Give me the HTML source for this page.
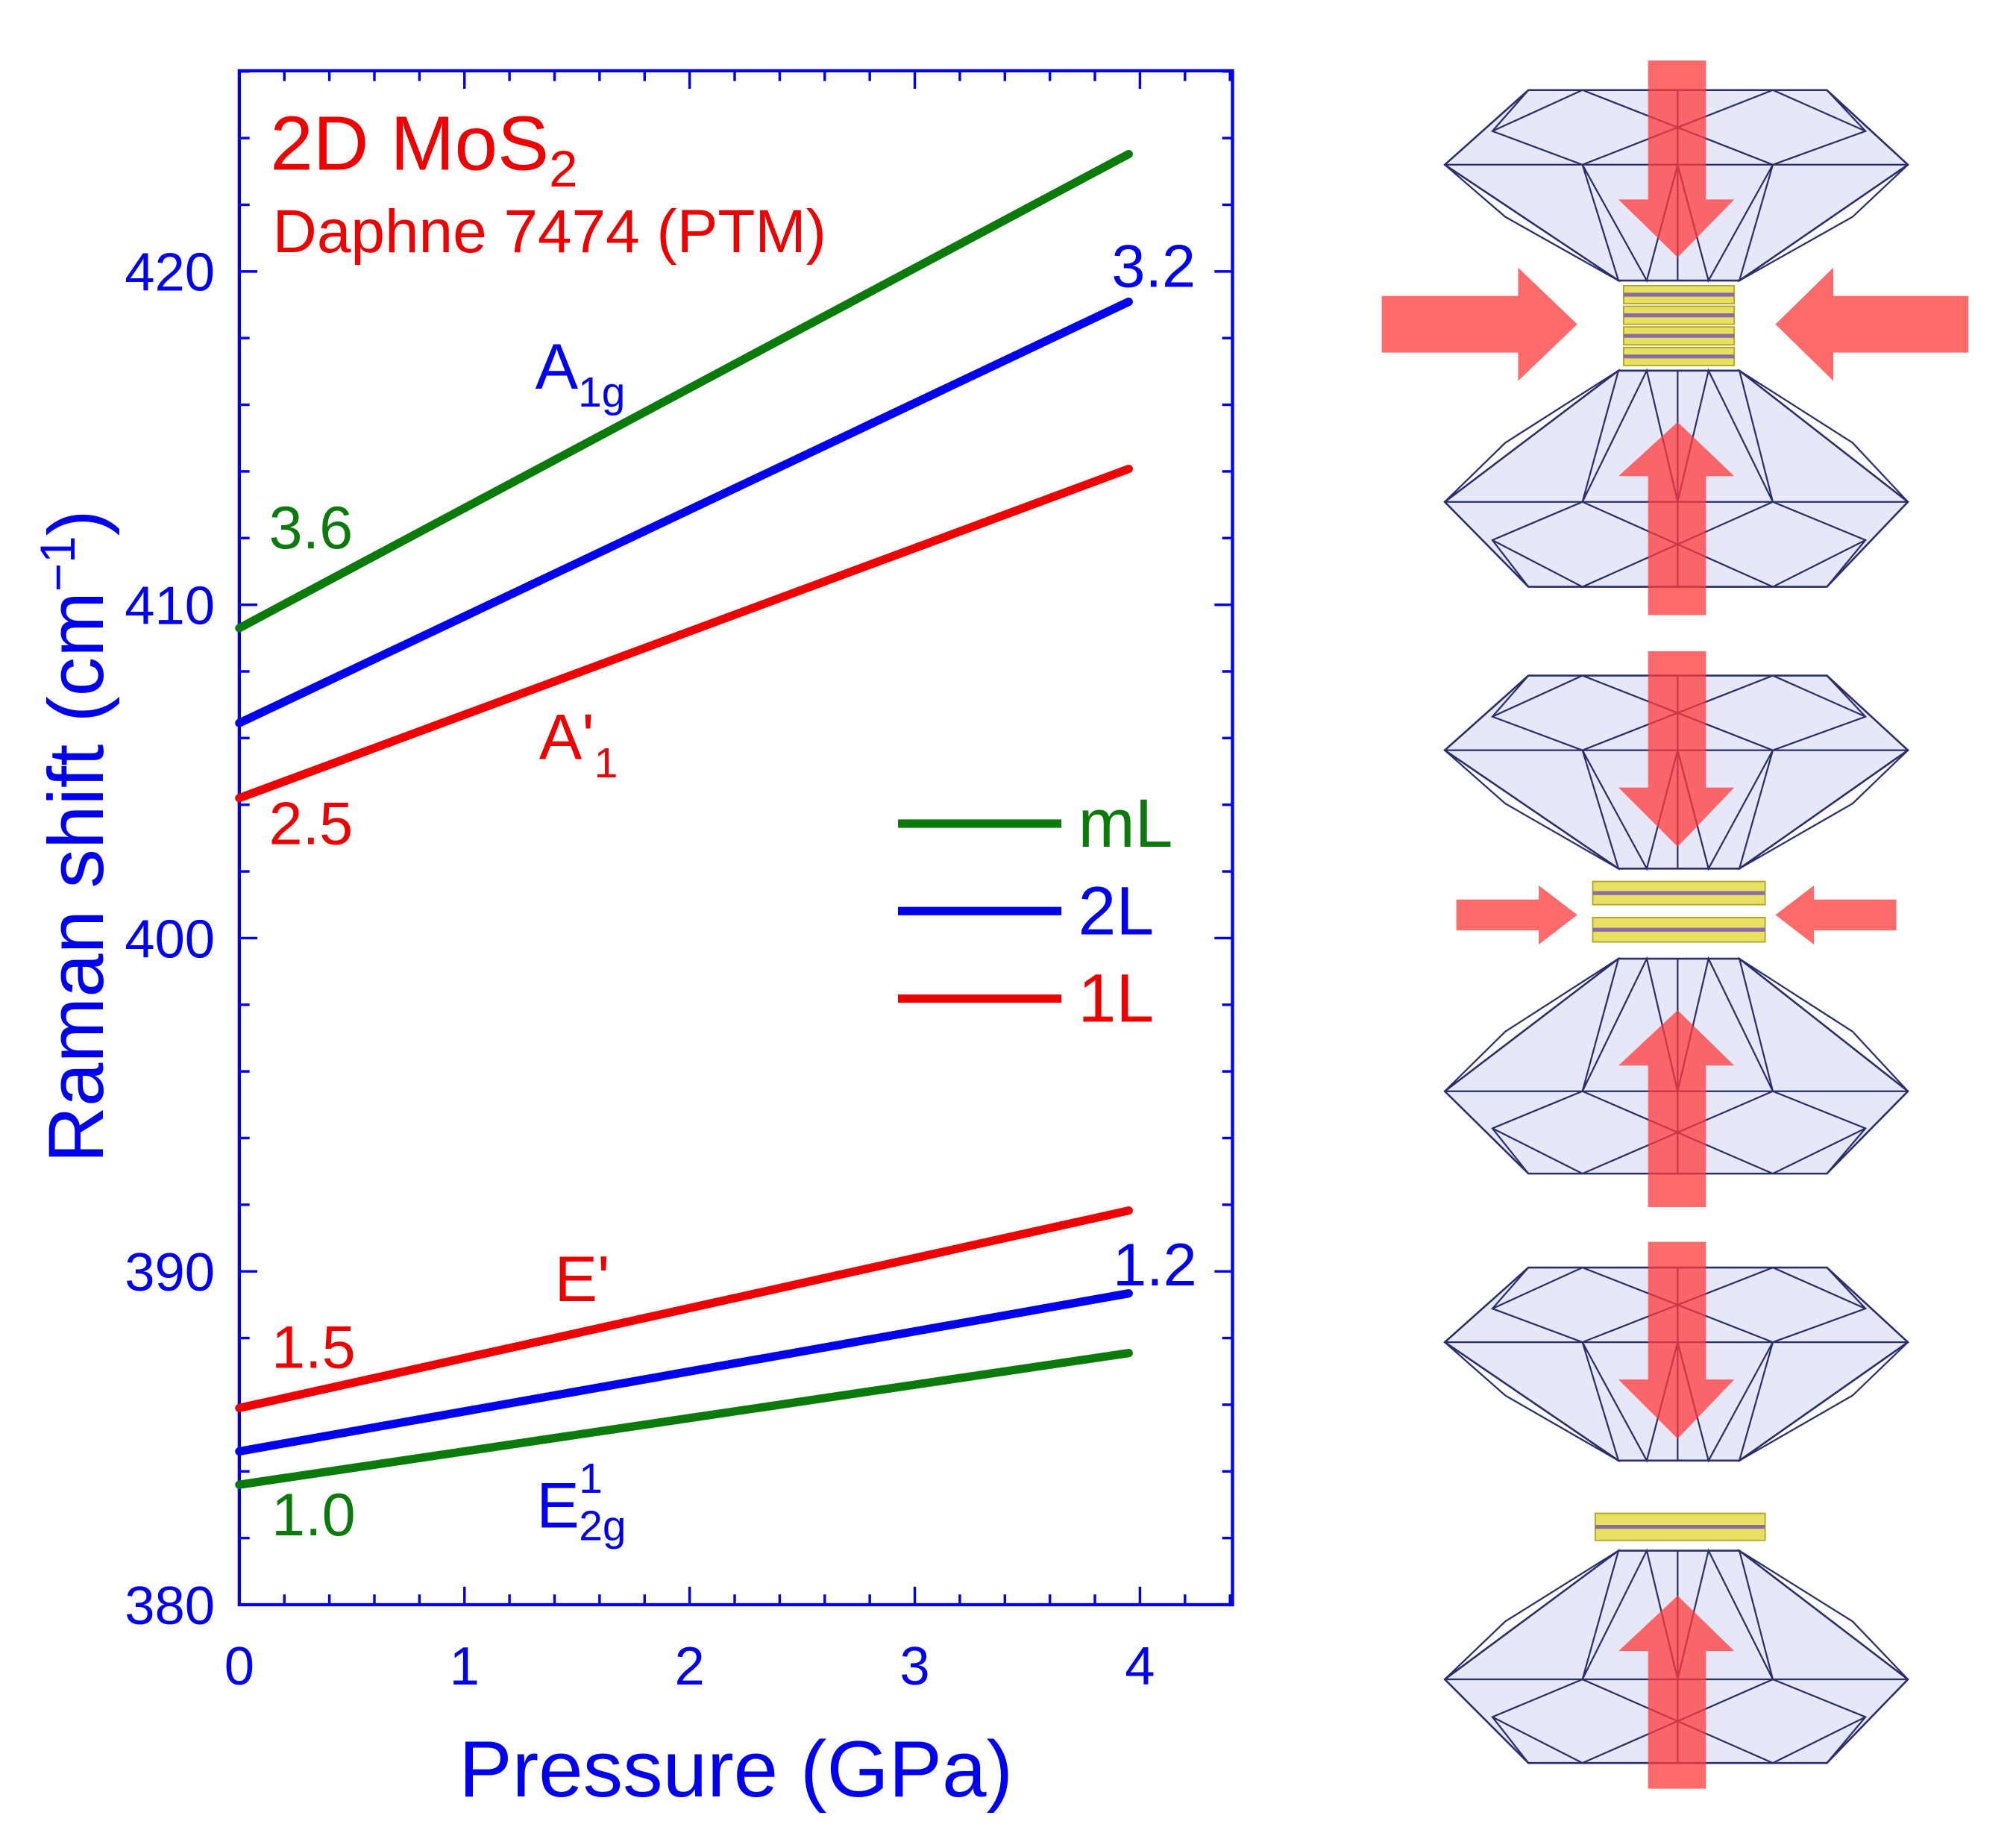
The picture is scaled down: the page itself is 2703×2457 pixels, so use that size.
<!DOCTYPE html>
<html><head><meta charset="utf-8"><style>
html,body{margin:0;padding:0;background:#fff}
svg{display:block}
text{font-family:"Liberation Sans",Arial,sans-serif}
</style></head><body>
<svg id="chart" width="2703" height="2457" viewBox="0 0 1567 1424.4" xmlns="http://www.w3.org/2000/svg">
<g id="plot"></g>
<g id="anvils"></g>
</svg>
<script>
const series = ["mL A1g","2L A1g","1L A'1","1L E'","2L E2g","mL E2g"];
const intercepts = [409.3, 406.45, 404.2, 385.9, 384.6, 383.6];
const slopes = [3.6, 3.2, 2.5, 1.5, 1.2, 1.0];
const colors = ["#0a7a0a","#0000ee","#ee0000","#ee0000","#0000ee","#0a7a0a"];
const xEnd = 3.95;
const xTicks = [0,1,2,3,4];
const yTicks = [380,390,400,410,420];
const legendLabels = ["mL","2L","1L"];
const legendColors = ["#0a7a0a","#0000ee","#ee0000"];

const NS="http://www.w3.org/2000/svg";
const L=186,R=958,T=55,B=1247, xMin=0,xMax=4.411,yMin=380,yMax=426.02;
const sx=v=>L+(v-xMin)/(xMax-xMin)*(R-L);
const sy=v=>B-(v-yMin)/(yMax-yMin)*(B-T);
const plot=document.getElementById('plot');
function mk(tag,attrs,parent){const e=document.createElementNS(NS,tag);for(const k in attrs)e.setAttribute(k,attrs[k]);(parent||plot).appendChild(e);return e;}
const blue="#0000ee";
let e;
e=mk('rect',{x:L,y:T,width:R-L,height:B-T,fill:'none',stroke:blue,'stroke-width':2.5});


for(let v=0;v<=4.4001;v+=0.2){
  const x=sx(v), major=Math.abs(v-Math.round(v))<1e-6, len=major?14:8;
  e=mk('line',{x1:x,y1:B,x2:x,y2:B-len,stroke:blue,'stroke-width':2});
  
  
  e=mk('line',{x1:x,y1:T,x2:x,y2:T+len,stroke:blue,'stroke-width':2});
  
  
}
xTicks.forEach(v=>{
  e=mk('text',{x:sx(v),y:B+62,'text-anchor':'middle','font-size':42,fill:blue});
  e.textContent=v;
  
  
});
for(let v=380;v<=426;v+=2){
  const y=sy(v), major=v%10===0, len=major?14:8;
  e=mk('line',{x1:L,y1:y,x2:L+len,y2:y,stroke:blue,'stroke-width':2});
  
  
  e=mk('line',{x1:R,y1:y,x2:R-len,y2:y,stroke:blue,'stroke-width':2});
  
  
}
yTicks.forEach(v=>{
  e=mk('text',{x:L-19,y:sy(v)+15,'text-anchor':'end','font-size':42,fill:blue});
  e.textContent=v;
  
  
});
e=mk('text',{x:572,y:1396,'text-anchor':'middle','font-size':62,fill:blue});
e.textContent='Pressure (GPa)';


e=mk('text',{x:0,y:0,'text-anchor':'middle','font-size':61,fill:blue,transform:'translate(80,650) rotate(-90)'});
e.innerHTML='Raman shift (cm<tspan dy="-22" font-size="38">−1</tspan><tspan dy="22">)</tspan>';


series.forEach((s,i)=>{
  e=mk('line',{x1:sx(0),y1:sy(intercepts[i]),x2:sx(xEnd),y2:sy(intercepts[i]+slopes[i]*xEnd),stroke:colors[i],'stroke-width':6.5,'stroke-linecap':'round'});
  
  
});
function txt(x,y,size,fill,html,name){e=mk('text',{x:x,y:y,'font-size':size,fill:fill});e.innerHTML=html;}
txt(210,132,60,'#ee0000','2D MoS<tspan dy="13" font-size="40">2</tspan>','title-mos2');
txt(212,196,47.5,'#ee0000','Daphne 7474 (PTM)','subtitle-ptm');
txt(209,426,47,'#0a7a0a','3.6','slope-label-ml-a');
txt(864,223,47,blue,'3.2','slope-label-2l-a');
txt(416,302,50,blue,'A<tspan dy="14" font-size="33">1g</tspan>','label-a1g');
txt(419,590,50,'#ee0000','A\'<tspan dy="14" font-size="33">1</tspan>','label-a-prime-1');
txt(209,656,47,'#ee0000','2.5','slope-label-1l-a');
txt(431,1011,50,'#ee0000','E\'','label-e-prime');
txt(211,1063,47,'#ee0000','1.5','slope-label-1l-e');
txt(865,999,47,blue,'1.2','slope-label-2l-e');
txt(417,1187,50,blue,'E','label-e2g1');
txt(450,1160,33,blue,'1','label-e2g1-sup');
txt(450,1197,33,blue,'2g','label-e2g1-sub');
txt(211,1193,47,'#0a7a0a','1.0','slope-label-ml-e');
legendLabels.forEach((lab,i)=>{
  const y=640+i*68;
  e=mk('line',{x1:698,y1:y,x2:825,y2:y,stroke:legendColors[i],'stroke-width':6.5});
  
  
  e=mk('text',{x:838,y:y+18,'font-size':53,fill:legendColors[i]});
  e.textContent=lab;
  
  
});
const an=document.getElementById('anvils');
function A(tag,attrs,name){const el=document.createElementNS(NS,tag);for(const k in attrs)el.setAttribute(k,attrs[k]);an.appendChild(el);return el;}
const st='#2a2f6b';
function anvil(top,wide,cul,down,name){
  const pts=[[1188,top],[1420,top],[1483,wide],[1352,cul],[1258,cul],[1123,wide]];
  A('polygon',{points:pts.map(p=>p.join(',')).join(' '),fill:'#e6e8f8',stroke:st,'stroke-width':1.5},name);
  const g={stroke:st,'stroke-width':1.3,fill:'none'};
  A('line',Object.assign({x1:1123,y1:wide,x2:1483,y2:wide},g),name+'-girdle');
  A('line',Object.assign({x1:1304,y1:top,x2:1304,y2:cul},g),name+'-facet');
  const a=top+(wide-top)*0.55;
  A('polyline',Object.assign({points:`1188,${top} 1160,${a} 1230,${wide} 1304,${(top+wide)/2} 1378,${wide} 1450,${a} 1420,${top}`},g),name+'-facet');
  A('polyline',Object.assign({points:`1160,${a} 1230,${top} 1304,${(top+wide)/2} 1378,${top} 1450,${a}`},g),name+'-facet');
  const c=wide+(cul-wide)*0.45;
  A('polyline',Object.assign({points:`1123,${wide} 1170,${c} 1258,${cul} 1230,${wide} 1280,${cul} 1304,${wide} 1328,${cul} 1378,${wide} 1352,${cul} 1440,${c} 1483,${wide}`},g),name+'-facet');
}
function arrowV(x0,y0,baseY,tipY,name){
  A('polygon',{points:`1281,${y0} 1326,${y0} 1326,${baseY} 1348,${baseY} 1304,${tipY} 1258,${baseY} 1281,${baseY}`,fill:'#ff3a3a','fill-opacity':0.75},name);
}
function arrowH(xs,xb,tip,cy,hs,hh,name){
  A('polygon',{points:`${xs},${cy-hs} ${xb},${cy-hs} ${xb},${cy-hh} ${tip},${cy} ${xb},${cy+hh} ${xb},${cy+hs} ${xs},${cy+hs}`,fill:'#ff3a3a','fill-opacity':0.75},name);
}
function layers(x1,x2,ys,name){
  ys.forEach(([a,b])=>{
    A('rect',{x:x1,y:a,width:x2-x1,height:b-a,fill:'#e8e060',stroke:'#b0a020','stroke-width':1},name);
    A('line',{x1:x1,y1:(a+b)/2,x2:x2,y2:(a+b)/2,stroke:'#8a6aa8','stroke-width':3},name+'-mo');
  });
}
anvil(70,128,218,true,'anvil-top-1'); anvil(456,390,288,false,'anvil-bottom-1');
layers(1262,1348,[[222,236],[238,252],[254,268],[270,284]],'mos2-multilayer');
arrowV(1304,47,155,200,'arrow-down-1'); arrowV(1304,478,370,328,'arrow-up-1');
arrowH(1074,1180,1226,252,22,44,'arrow-right-1'); arrowH(1530,1425,1380,252,22,44,'arrow-left-1');
anvil(525,583,675,true,'anvil-top-2'); anvil(912,848,745,false,'anvil-bottom-2');
layers(1238,1372,[[685,703],[713,732]],'mos2-bilayer');
arrowV(1304,506,612,658,'arrow-down-2'); arrowV(1304,938,828,785,'arrow-up-2');
arrowH(1132,1196,1226,711,12,23,'arrow-right-2'); arrowH(1474,1410,1380,711,12,23,'arrow-left-2');
anvil(985,1043,1135,true,'anvil-top-3'); anvil(1370,1305,1205,false,'anvil-bottom-3');
layers(1240,1372,[[1176,1197]],'mos2-monolayer');
arrowV(1304,965,1072,1118,'arrow-down-3'); arrowV(1304,1390,1283,1240,'arrow-up-3');
</script>
</body></html>
